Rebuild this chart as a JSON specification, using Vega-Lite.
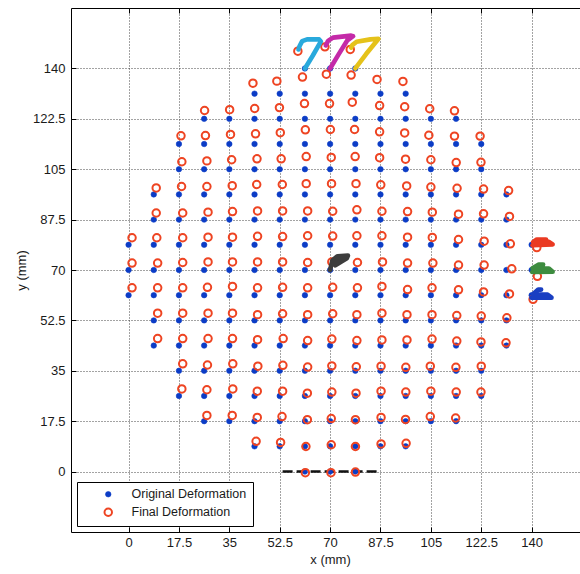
{
"$schema":"https://vega.github.io/schema/vega-lite/v6.json",
"width":509,"height":524,
"autosize":{"type":"none"},
"padding":{"left":71,"top":8,"right":0,"bottom":42},
"background":"#ffffff",
"config":{
 "view":{"stroke":"#000000","strokeWidth":1},
 "font":"Liberation Sans",
 "axis":{"labelFont":"Liberation Sans","labelFontSize":13,"labelColor":"#1a1a1a","titleFont":"Liberation Sans","titleFontSize":13,"titleFontWeight":"normal","titleColor":"#1a1a1a","domain":false,"tickColor":"#000000","tickSize":-5,"gridColor":"#333333","gridDash":[1,2],"gridWidth":1,"gridOpacity":0.9,"format":".6~g"},
 "legend":{"orient":"none","legendX":6,"legendY":474,"strokeColor":"#000000","fillColor":"#ffffff","padding":6,"labelFont":"Liberation Sans","labelFontSize":12.5,"labelColor":"#1a1a1a","symbolOffset":19,"labelOffset":17,"rowPadding":3,"title":null}
},
"datasets":{
"pts":[
{"x":61.25,"y":140,"t":"Original Deformation"},{"x":70,"y":140,"t":"Original Deformation"},{"x":78.75,"y":140,"t":"Original Deformation"},
{"x":43.75,"y":131.25,"t":"Original Deformation"},{"x":52.5,"y":131.25,"t":"Original Deformation"},{"x":61.25,"y":131.25,"t":"Original Deformation"},{"x":70,"y":131.25,"t":"Original Deformation"},{"x":78.75,"y":131.25,"t":"Original Deformation"},{"x":87.5,"y":131.25,"t":"Original Deformation"},{"x":96.25,"y":131.25,"t":"Original Deformation"},
{"x":26.25,"y":122.5,"t":"Original Deformation"},{"x":35,"y":122.5,"t":"Original Deformation"},{"x":43.75,"y":122.5,"t":"Original Deformation"},{"x":52.5,"y":122.5,"t":"Original Deformation"},{"x":61.25,"y":122.5,"t":"Original Deformation"},{"x":70,"y":122.5,"t":"Original Deformation"},{"x":78.75,"y":122.5,"t":"Original Deformation"},{"x":87.5,"y":122.5,"t":"Original Deformation"},{"x":96.25,"y":122.5,"t":"Original Deformation"},{"x":105,"y":122.5,"t":"Original Deformation"},{"x":113.75,"y":122.5,"t":"Original Deformation"},
{"x":17.5,"y":113.75,"t":"Original Deformation"},{"x":26.25,"y":113.75,"t":"Original Deformation"},{"x":35,"y":113.75,"t":"Original Deformation"},{"x":43.75,"y":113.75,"t":"Original Deformation"},{"x":52.5,"y":113.75,"t":"Original Deformation"},{"x":61.25,"y":113.75,"t":"Original Deformation"},{"x":70,"y":113.75,"t":"Original Deformation"},{"x":78.75,"y":113.75,"t":"Original Deformation"},{"x":87.5,"y":113.75,"t":"Original Deformation"},{"x":96.25,"y":113.75,"t":"Original Deformation"},{"x":105,"y":113.75,"t":"Original Deformation"},{"x":113.75,"y":113.75,"t":"Original Deformation"},{"x":122.5,"y":113.75,"t":"Original Deformation"},
{"x":17.5,"y":105,"t":"Original Deformation"},{"x":26.25,"y":105,"t":"Original Deformation"},{"x":35,"y":105,"t":"Original Deformation"},{"x":43.75,"y":105,"t":"Original Deformation"},{"x":52.5,"y":105,"t":"Original Deformation"},{"x":61.25,"y":105,"t":"Original Deformation"},{"x":70,"y":105,"t":"Original Deformation"},{"x":78.75,"y":105,"t":"Original Deformation"},{"x":87.5,"y":105,"t":"Original Deformation"},{"x":96.25,"y":105,"t":"Original Deformation"},{"x":105,"y":105,"t":"Original Deformation"},{"x":113.75,"y":105,"t":"Original Deformation"},{"x":122.5,"y":105,"t":"Original Deformation"},
{"x":8.75,"y":96.25,"t":"Original Deformation"},{"x":17.5,"y":96.25,"t":"Original Deformation"},{"x":26.25,"y":96.25,"t":"Original Deformation"},{"x":35,"y":96.25,"t":"Original Deformation"},{"x":43.75,"y":96.25,"t":"Original Deformation"},{"x":52.5,"y":96.25,"t":"Original Deformation"},{"x":61.25,"y":96.25,"t":"Original Deformation"},{"x":70,"y":96.25,"t":"Original Deformation"},{"x":78.75,"y":96.25,"t":"Original Deformation"},{"x":87.5,"y":96.25,"t":"Original Deformation"},{"x":96.25,"y":96.25,"t":"Original Deformation"},{"x":105,"y":96.25,"t":"Original Deformation"},{"x":113.75,"y":96.25,"t":"Original Deformation"},{"x":122.5,"y":96.25,"t":"Original Deformation"},{"x":131.25,"y":96.25,"t":"Original Deformation"},
{"x":8.75,"y":87.5,"t":"Original Deformation"},{"x":17.5,"y":87.5,"t":"Original Deformation"},{"x":26.25,"y":87.5,"t":"Original Deformation"},{"x":35,"y":87.5,"t":"Original Deformation"},{"x":43.75,"y":87.5,"t":"Original Deformation"},{"x":52.5,"y":87.5,"t":"Original Deformation"},{"x":61.25,"y":87.5,"t":"Original Deformation"},{"x":70,"y":87.5,"t":"Original Deformation"},{"x":78.75,"y":87.5,"t":"Original Deformation"},{"x":87.5,"y":87.5,"t":"Original Deformation"},{"x":96.25,"y":87.5,"t":"Original Deformation"},{"x":105,"y":87.5,"t":"Original Deformation"},{"x":113.75,"y":87.5,"t":"Original Deformation"},{"x":122.5,"y":87.5,"t":"Original Deformation"},{"x":131.25,"y":87.5,"t":"Original Deformation"},
{"x":0,"y":78.75,"t":"Original Deformation"},{"x":8.75,"y":78.75,"t":"Original Deformation"},{"x":17.5,"y":78.75,"t":"Original Deformation"},{"x":26.25,"y":78.75,"t":"Original Deformation"},{"x":35,"y":78.75,"t":"Original Deformation"},{"x":43.75,"y":78.75,"t":"Original Deformation"},{"x":52.5,"y":78.75,"t":"Original Deformation"},{"x":61.25,"y":78.75,"t":"Original Deformation"},{"x":70,"y":78.75,"t":"Original Deformation"},{"x":78.75,"y":78.75,"t":"Original Deformation"},{"x":87.5,"y":78.75,"t":"Original Deformation"},{"x":96.25,"y":78.75,"t":"Original Deformation"},{"x":105,"y":78.75,"t":"Original Deformation"},{"x":113.75,"y":78.75,"t":"Original Deformation"},{"x":122.5,"y":78.75,"t":"Original Deformation"},{"x":131.25,"y":78.75,"t":"Original Deformation"},{"x":140,"y":78.75,"t":"Original Deformation"},
{"x":0,"y":70,"t":"Original Deformation"},{"x":8.75,"y":70,"t":"Original Deformation"},{"x":17.5,"y":70,"t":"Original Deformation"},{"x":26.25,"y":70,"t":"Original Deformation"},{"x":35,"y":70,"t":"Original Deformation"},{"x":43.75,"y":70,"t":"Original Deformation"},{"x":52.5,"y":70,"t":"Original Deformation"},{"x":61.25,"y":70,"t":"Original Deformation"},{"x":70,"y":70,"t":"Original Deformation"},{"x":78.75,"y":70,"t":"Original Deformation"},{"x":87.5,"y":70,"t":"Original Deformation"},{"x":96.25,"y":70,"t":"Original Deformation"},{"x":105,"y":70,"t":"Original Deformation"},{"x":113.75,"y":70,"t":"Original Deformation"},{"x":122.5,"y":70,"t":"Original Deformation"},{"x":131.25,"y":70,"t":"Original Deformation"},{"x":140,"y":70,"t":"Original Deformation"},
{"x":0,"y":61.25,"t":"Original Deformation"},{"x":8.75,"y":61.25,"t":"Original Deformation"},{"x":17.5,"y":61.25,"t":"Original Deformation"},{"x":26.25,"y":61.25,"t":"Original Deformation"},{"x":35,"y":61.25,"t":"Original Deformation"},{"x":43.75,"y":61.25,"t":"Original Deformation"},{"x":52.5,"y":61.25,"t":"Original Deformation"},{"x":61.25,"y":61.25,"t":"Original Deformation"},{"x":70,"y":61.25,"t":"Original Deformation"},{"x":78.75,"y":61.25,"t":"Original Deformation"},{"x":87.5,"y":61.25,"t":"Original Deformation"},{"x":96.25,"y":61.25,"t":"Original Deformation"},{"x":105,"y":61.25,"t":"Original Deformation"},{"x":113.75,"y":61.25,"t":"Original Deformation"},{"x":122.5,"y":61.25,"t":"Original Deformation"},{"x":131.25,"y":61.25,"t":"Original Deformation"},{"x":140,"y":61.25,"t":"Original Deformation"},
{"x":8.75,"y":52.5,"t":"Original Deformation"},{"x":17.5,"y":52.5,"t":"Original Deformation"},{"x":26.25,"y":52.5,"t":"Original Deformation"},{"x":35,"y":52.5,"t":"Original Deformation"},{"x":43.75,"y":52.5,"t":"Original Deformation"},{"x":52.5,"y":52.5,"t":"Original Deformation"},{"x":61.25,"y":52.5,"t":"Original Deformation"},{"x":70,"y":52.5,"t":"Original Deformation"},{"x":78.75,"y":52.5,"t":"Original Deformation"},{"x":87.5,"y":52.5,"t":"Original Deformation"},{"x":96.25,"y":52.5,"t":"Original Deformation"},{"x":105,"y":52.5,"t":"Original Deformation"},{"x":113.75,"y":52.5,"t":"Original Deformation"},{"x":122.5,"y":52.5,"t":"Original Deformation"},{"x":131.25,"y":52.5,"t":"Original Deformation"},
{"x":8.75,"y":43.75,"t":"Original Deformation"},{"x":17.5,"y":43.75,"t":"Original Deformation"},{"x":26.25,"y":43.75,"t":"Original Deformation"},{"x":35,"y":43.75,"t":"Original Deformation"},{"x":43.75,"y":43.75,"t":"Original Deformation"},{"x":52.5,"y":43.75,"t":"Original Deformation"},{"x":61.25,"y":43.75,"t":"Original Deformation"},{"x":70,"y":43.75,"t":"Original Deformation"},{"x":78.75,"y":43.75,"t":"Original Deformation"},{"x":87.5,"y":43.75,"t":"Original Deformation"},{"x":96.25,"y":43.75,"t":"Original Deformation"},{"x":105,"y":43.75,"t":"Original Deformation"},{"x":113.75,"y":43.75,"t":"Original Deformation"},{"x":122.5,"y":43.75,"t":"Original Deformation"},{"x":131.25,"y":43.75,"t":"Original Deformation"},
{"x":17.5,"y":35,"t":"Original Deformation"},{"x":26.25,"y":35,"t":"Original Deformation"},{"x":35,"y":35,"t":"Original Deformation"},{"x":43.75,"y":35,"t":"Original Deformation"},{"x":52.5,"y":35,"t":"Original Deformation"},{"x":61.25,"y":35,"t":"Original Deformation"},{"x":70,"y":35,"t":"Original Deformation"},{"x":78.75,"y":35,"t":"Original Deformation"},{"x":87.5,"y":35,"t":"Original Deformation"},{"x":96.25,"y":35,"t":"Original Deformation"},{"x":105,"y":35,"t":"Original Deformation"},{"x":113.75,"y":35,"t":"Original Deformation"},{"x":122.5,"y":35,"t":"Original Deformation"},
{"x":17.5,"y":26.25,"t":"Original Deformation"},{"x":26.25,"y":26.25,"t":"Original Deformation"},{"x":35,"y":26.25,"t":"Original Deformation"},{"x":43.75,"y":26.25,"t":"Original Deformation"},{"x":52.5,"y":26.25,"t":"Original Deformation"},{"x":61.25,"y":26.25,"t":"Original Deformation"},{"x":70,"y":26.25,"t":"Original Deformation"},{"x":78.75,"y":26.25,"t":"Original Deformation"},{"x":87.5,"y":26.25,"t":"Original Deformation"},{"x":96.25,"y":26.25,"t":"Original Deformation"},{"x":105,"y":26.25,"t":"Original Deformation"},{"x":113.75,"y":26.25,"t":"Original Deformation"},{"x":122.5,"y":26.25,"t":"Original Deformation"},
{"x":26.25,"y":17.5,"t":"Original Deformation"},{"x":35,"y":17.5,"t":"Original Deformation"},{"x":43.75,"y":17.5,"t":"Original Deformation"},{"x":52.5,"y":17.5,"t":"Original Deformation"},{"x":61.25,"y":17.5,"t":"Original Deformation"},{"x":70,"y":17.5,"t":"Original Deformation"},{"x":78.75,"y":17.5,"t":"Original Deformation"},{"x":87.5,"y":17.5,"t":"Original Deformation"},{"x":96.25,"y":17.5,"t":"Original Deformation"},{"x":105,"y":17.5,"t":"Original Deformation"},{"x":113.75,"y":17.5,"t":"Original Deformation"},
{"x":43.75,"y":8.75,"t":"Original Deformation"},{"x":52.5,"y":8.75,"t":"Original Deformation"},{"x":61.25,"y":8.75,"t":"Original Deformation"},{"x":70,"y":8.75,"t":"Original Deformation"},{"x":78.75,"y":8.75,"t":"Original Deformation"},{"x":87.5,"y":8.75,"t":"Original Deformation"},{"x":96.25,"y":8.75,"t":"Original Deformation"},
{"x":61.25,"y":0,"t":"Original Deformation"},{"x":70,"y":0,"t":"Original Deformation"},{"x":78.75,"y":0,"t":"Original Deformation"},
{"x":58.8,"y":146.0,"t":"Final Deformation"},{"x":68.2,"y":147.5,"t":"Final Deformation"},{"x":77.0,"y":146.6,"t":"Final Deformation"},
{"x":43.2,"y":134.9,"t":"Final Deformation"},{"x":51.5,"y":135.6,"t":"Final Deformation"},{"x":60.4,"y":137.0,"t":"Final Deformation"},{"x":68.7,"y":138.0,"t":"Final Deformation"},{"x":77.3,"y":137.7,"t":"Final Deformation"},{"x":86.3,"y":136.2,"t":"Final Deformation"},{"x":95.3,"y":135.5,"t":"Final Deformation"},
{"x":26.4,"y":125.4,"t":"Final Deformation"},{"x":35.1,"y":125.7,"t":"Final Deformation"},{"x":43.8,"y":126.1,"t":"Final Deformation"},{"x":52.4,"y":126.4,"t":"Final Deformation"},{"x":61.1,"y":127.8,"t":"Final Deformation"},{"x":69.8,"y":127.8,"t":"Final Deformation"},{"x":77.7,"y":128.3,"t":"Final Deformation"},{"x":87.2,"y":127.1,"t":"Final Deformation"},{"x":95.9,"y":126.7,"t":"Final Deformation"},{"x":104.6,"y":126.0,"t":"Final Deformation"},{"x":113.2,"y":125.3,"t":"Final Deformation"},
{"x":18.2,"y":116.6,"t":"Final Deformation"},{"x":26.7,"y":116.7,"t":"Final Deformation"},{"x":35.4,"y":117.1,"t":"Final Deformation"},{"x":44.1,"y":117.3,"t":"Final Deformation"},{"x":52.7,"y":117.7,"t":"Final Deformation"},{"x":61.4,"y":118.7,"t":"Final Deformation"},{"x":70.1,"y":118.8,"t":"Final Deformation"},{"x":78.5,"y":118.8,"t":"Final Deformation"},{"x":87.2,"y":118.0,"t":"Final Deformation"},{"x":95.9,"y":117.6,"t":"Final Deformation"},{"x":104.3,"y":116.8,"t":"Final Deformation"},{"x":113.2,"y":116.5,"t":"Final Deformation"},{"x":122.1,"y":116.5,"t":"Final Deformation"},
{"x":18.5,"y":107.6,"t":"Final Deformation"},{"x":27.2,"y":107.9,"t":"Final Deformation"},{"x":35.8,"y":108.3,"t":"Final Deformation"},{"x":44.6,"y":108.6,"t":"Final Deformation"},{"x":53.0,"y":108.6,"t":"Final Deformation"},{"x":61.7,"y":109.4,"t":"Final Deformation"},{"x":70.4,"y":109.1,"t":"Final Deformation"},{"x":78.7,"y":109.4,"t":"Final Deformation"},{"x":87.2,"y":109.0,"t":"Final Deformation"},{"x":96.2,"y":108.5,"t":"Final Deformation"},{"x":105.0,"y":108.3,"t":"Final Deformation"},{"x":113.8,"y":107.3,"t":"Final Deformation"},{"x":122.4,"y":107.4,"t":"Final Deformation"},
{"x":9.6,"y":98.5,"t":"Final Deformation"},{"x":18.4,"y":99.0,"t":"Final Deformation"},{"x":27.2,"y":99.0,"t":"Final Deformation"},{"x":36.0,"y":99.3,"t":"Final Deformation"},{"x":44.5,"y":99.7,"t":"Final Deformation"},{"x":53.4,"y":99.7,"t":"Final Deformation"},{"x":61.7,"y":100.0,"t":"Final Deformation"},{"x":70.5,"y":100.0,"t":"Final Deformation"},{"x":79.0,"y":100.0,"t":"Final Deformation"},{"x":87.6,"y":99.6,"t":"Final Deformation"},{"x":96.6,"y":99.2,"t":"Final Deformation"},{"x":105.0,"y":98.8,"t":"Final Deformation"},{"x":114.1,"y":98.4,"t":"Final Deformation"},{"x":123.3,"y":98.1,"t":"Final Deformation"},{"x":132.0,"y":97.6,"t":"Final Deformation"},
{"x":9.6,"y":89.8,"t":"Final Deformation"},{"x":18.8,"y":89.8,"t":"Final Deformation"},{"x":27.6,"y":90.1,"t":"Final Deformation"},{"x":36.1,"y":90.3,"t":"Final Deformation"},{"x":44.8,"y":90.5,"t":"Final Deformation"},{"x":53.5,"y":90.5,"t":"Final Deformation"},{"x":62.2,"y":90.5,"t":"Final Deformation"},{"x":70.9,"y":90.4,"t":"Final Deformation"},{"x":79.3,"y":90.9,"t":"Final Deformation"},{"x":88.0,"y":90.4,"t":"Final Deformation"},{"x":96.9,"y":90.3,"t":"Final Deformation"},{"x":105.5,"y":90.1,"t":"Final Deformation"},{"x":114.6,"y":89.4,"t":"Final Deformation"},{"x":123.3,"y":89.5,"t":"Final Deformation"},{"x":132.3,"y":88.6,"t":"Final Deformation"},
{"x":1.2,"y":81.2,"t":"Final Deformation"},{"x":9.8,"y":81.2,"t":"Final Deformation"},{"x":18.8,"y":81.2,"t":"Final Deformation"},{"x":27.6,"y":81.4,"t":"Final Deformation"},{"x":36.1,"y":81.4,"t":"Final Deformation"},{"x":44.8,"y":81.7,"t":"Final Deformation"},{"x":53.5,"y":81.6,"t":"Final Deformation"},{"x":62.2,"y":81.9,"t":"Final Deformation"},{"x":70.9,"y":81.8,"t":"Final Deformation"},{"x":79.3,"y":81.9,"t":"Final Deformation"},{"x":88.0,"y":81.9,"t":"Final Deformation"},{"x":96.9,"y":81.4,"t":"Final Deformation"},{"x":105.5,"y":81.3,"t":"Final Deformation"},{"x":114.6,"y":80.6,"t":"Final Deformation"},{"x":123.5,"y":80.0,"t":"Final Deformation"},{"x":132.6,"y":79.1,"t":"Final Deformation"},{"x":141.8,"y":77.8,"t":"Final Deformation"},
{"x":1.2,"y":72.4,"t":"Final Deformation"},{"x":10.1,"y":72.4,"t":"Final Deformation"},{"x":18.8,"y":72.6,"t":"Final Deformation"},{"x":27.6,"y":72.8,"t":"Final Deformation"},{"x":36.1,"y":72.8,"t":"Final Deformation"},{"x":44.8,"y":72.8,"t":"Final Deformation"},{"x":53.5,"y":72.8,"t":"Final Deformation"},{"x":62.2,"y":72.6,"t":"Final Deformation"},{"x":70.6,"y":72.8,"t":"Final Deformation"},{"x":79.5,"y":72.6,"t":"Final Deformation"},{"x":88.2,"y":72.8,"t":"Final Deformation"},{"x":96.9,"y":72.4,"t":"Final Deformation"},{"x":105.7,"y":72.4,"t":"Final Deformation"},{"x":114.6,"y":71.7,"t":"Final Deformation"},{"x":123.5,"y":71.7,"t":"Final Deformation"},{"x":133.1,"y":70.4,"t":"Final Deformation"},{"x":142.0,"y":67.8,"t":"Final Deformation"},
{"x":1.2,"y":63.8,"t":"Final Deformation"},{"x":10.1,"y":63.8,"t":"Final Deformation"},{"x":18.8,"y":63.8,"t":"Final Deformation"},{"x":27.4,"y":64.0,"t":"Final Deformation"},{"x":36.1,"y":64.3,"t":"Final Deformation"},{"x":44.8,"y":63.8,"t":"Final Deformation"},{"x":53.5,"y":64.0,"t":"Final Deformation"},{"x":62.2,"y":63.8,"t":"Final Deformation"},{"x":70.9,"y":64.0,"t":"Final Deformation"},{"x":79.5,"y":63.8,"t":"Final Deformation"},{"x":88.0,"y":64.3,"t":"Final Deformation"},{"x":96.9,"y":63.2,"t":"Final Deformation"},{"x":105.4,"y":63.8,"t":"Final Deformation"},{"x":114.6,"y":63.1,"t":"Final Deformation"},{"x":123.3,"y":62.4,"t":"Final Deformation"},{"x":132.3,"y":61.7,"t":"Final Deformation"},{"x":140.5,"y":59.8,"t":"Final Deformation"},
{"x":10.1,"y":55.0,"t":"Final Deformation"},{"x":18.8,"y":55.0,"t":"Final Deformation"},{"x":27.6,"y":55.0,"t":"Final Deformation"},{"x":36.1,"y":55.0,"t":"Final Deformation"},{"x":44.8,"y":54.5,"t":"Final Deformation"},{"x":53.5,"y":54.8,"t":"Final Deformation"},{"x":62.2,"y":54.5,"t":"Final Deformation"},{"x":70.9,"y":54.8,"t":"Final Deformation"},{"x":79.3,"y":54.5,"t":"Final Deformation"},{"x":88.0,"y":55.0,"t":"Final Deformation"},{"x":96.7,"y":54.5,"t":"Final Deformation"},{"x":105.4,"y":54.5,"t":"Final Deformation"},{"x":114.0,"y":54.2,"t":"Final Deformation"},{"x":122.5,"y":54.0,"t":"Final Deformation"},{"x":131.4,"y":53.4,"t":"Final Deformation"},
{"x":10.1,"y":46.2,"t":"Final Deformation"},{"x":18.8,"y":46.2,"t":"Final Deformation"},{"x":27.6,"y":46.2,"t":"Final Deformation"},{"x":36.1,"y":46.2,"t":"Final Deformation"},{"x":44.8,"y":45.8,"t":"Final Deformation"},{"x":53.7,"y":46.2,"t":"Final Deformation"},{"x":62.2,"y":45.5,"t":"Final Deformation"},{"x":70.6,"y":46.0,"t":"Final Deformation"},{"x":79.3,"y":45.5,"t":"Final Deformation"},{"x":88.0,"y":45.7,"t":"Final Deformation"},{"x":96.7,"y":45.7,"t":"Final Deformation"},{"x":105.4,"y":46.0,"t":"Final Deformation"},{"x":114.0,"y":45.3,"t":"Final Deformation"},{"x":122.4,"y":45.0,"t":"Final Deformation"},{"x":131.1,"y":44.7,"t":"Final Deformation"},
{"x":18.8,"y":37.4,"t":"Final Deformation"},{"x":27.4,"y":37.0,"t":"Final Deformation"},{"x":36.2,"y":37.4,"t":"Final Deformation"},{"x":44.9,"y":36.6,"t":"Final Deformation"},{"x":53.6,"y":36.9,"t":"Final Deformation"},{"x":62.2,"y":36.3,"t":"Final Deformation"},{"x":70.6,"y":36.7,"t":"Final Deformation"},{"x":79.1,"y":36.4,"t":"Final Deformation"},{"x":87.7,"y":36.6,"t":"Final Deformation"},{"x":96.3,"y":36.2,"t":"Final Deformation"},{"x":104.8,"y":36.6,"t":"Final Deformation"},{"x":113.7,"y":36.2,"t":"Final Deformation"},{"x":122.5,"y":36.6,"t":"Final Deformation"},
{"x":18.5,"y":28.7,"t":"Final Deformation"},{"x":27.2,"y":28.4,"t":"Final Deformation"},{"x":36.2,"y":28.7,"t":"Final Deformation"},{"x":44.7,"y":27.9,"t":"Final Deformation"},{"x":53.5,"y":27.9,"t":"Final Deformation"},{"x":62.1,"y":27.2,"t":"Final Deformation"},{"x":70.6,"y":27.6,"t":"Final Deformation"},{"x":79.0,"y":27.2,"t":"Final Deformation"},{"x":87.7,"y":27.9,"t":"Final Deformation"},{"x":96.3,"y":27.6,"t":"Final Deformation"},{"x":105.0,"y":27.9,"t":"Final Deformation"},{"x":113.8,"y":27.6,"t":"Final Deformation"},{"x":122.4,"y":27.6,"t":"Final Deformation"},
{"x":27.2,"y":19.5,"t":"Final Deformation"},{"x":36.0,"y":19.5,"t":"Final Deformation"},{"x":44.7,"y":18.8,"t":"Final Deformation"},{"x":53.3,"y":19.1,"t":"Final Deformation"},{"x":62.1,"y":18.0,"t":"Final Deformation"},{"x":70.4,"y":18.4,"t":"Final Deformation"},{"x":78.8,"y":18.0,"t":"Final Deformation"},{"x":87.7,"y":18.8,"t":"Final Deformation"},{"x":96.2,"y":18.1,"t":"Final Deformation"},{"x":104.8,"y":19.1,"t":"Final Deformation"},{"x":113.6,"y":18.6,"t":"Final Deformation"},
{"x":44.3,"y":10.5,"t":"Final Deformation"},{"x":52.8,"y":10.1,"t":"Final Deformation"},{"x":61.6,"y":8.7,"t":"Final Deformation"},{"x":70.4,"y":9.3,"t":"Final Deformation"},{"x":78.8,"y":8.7,"t":"Final Deformation"},{"x":87.7,"y":9.6,"t":"Final Deformation"},{"x":96.4,"y":9.8,"t":"Final Deformation"},
{"x":61.4,"y":-0.4,"t":"Final Deformation"},{"x":70.3,"y":-0.4,"t":"Final Deformation"},{"x":78.8,"y":-0.2,"t":"Final Deformation"}
],
"traj":[
{"g":"c","o":1,"x":61.25,"y":140},{"g":"c","o":2,"x":64,"y":144.5},{"g":"c","o":3,"x":66.8,"y":149.4},{"g":"c","o":4,"x":66.2,"y":150.1},{"g":"c","o":5,"x":62,"y":150.1},{"g":"c","o":6,"x":60.3,"y":149.5},{"g":"c","o":7,"x":59.4,"y":147.8},{"g":"c","o":8,"x":59,"y":146.6},
{"g":"m","o":1,"x":70,"y":140},{"g":"m","o":2,"x":73,"y":145},{"g":"m","o":3,"x":76,"y":149.8},{"g":"m","o":4,"x":78,"y":151.2},{"g":"m","o":5,"x":77.3,"y":151.4},{"g":"m","o":6,"x":71,"y":150.7},{"g":"m","o":7,"x":69.3,"y":149.6},{"g":"m","o":8,"x":68.5,"y":148},
{"g":"y","o":1,"x":78.75,"y":140},{"g":"y","o":2,"x":82.5,"y":145},{"g":"y","o":3,"x":86.4,"y":149.8},{"g":"y","o":4,"x":86.8,"y":150.3},{"g":"y","o":5,"x":84,"y":150.1},{"g":"y","o":6,"x":79.2,"y":149.3},{"g":"y","o":7,"x":77.7,"y":148.1},{"g":"y","o":8,"x":77.3,"y":147.2},
{"g":"k","o":1,"x":70,"y":70},{"g":"k","o":2,"x":70.8,"y":73.4},{"g":"k","o":3,"x":72.6,"y":74.8},{"g":"k","o":4,"x":76.2,"y":75},{"g":"k","o":5,"x":75.8,"y":74.1},{"g":"k","o":6,"x":71.8,"y":71.6},{"g":"k","o":7,"x":72.5,"y":73.5},{"g":"k","o":8,"x":75,"y":74.5},
{"g":"r","o":1,"x":140.3,"y":78.6},{"g":"r","o":2,"x":147.3,"y":78.9},{"g":"r","o":3,"x":146,"y":79.8},{"g":"r","o":4,"x":140.5,"y":79.7},{"g":"r","o":5,"x":141.8,"y":80.6},{"g":"r","o":6,"x":145,"y":80.6},
{"g":"gr","o":1,"x":140.2,"y":69.3},{"g":"gr","o":2,"x":147.3,"y":69.4},{"g":"gr","o":3,"x":146,"y":70.5},{"g":"gr","o":4,"x":140.3,"y":70.6},{"g":"gr","o":5,"x":142.5,"y":71.9},{"g":"gr","o":6,"x":144,"y":71.9},
{"g":"b","o":1,"x":139.9,"y":60.4},{"g":"b","o":2,"x":146.9,"y":60.4},{"g":"b","o":3,"x":145.5,"y":61.5},{"g":"b","o":4,"x":140.5,"y":61.6},{"g":"b","o":5,"x":142.3,"y":63.2},{"g":"b","o":6,"x":143.3,"y":63.2}
],
"dash":[{"x":53.5,"y":0},{"x":87.5,"y":0}]
},
"layer":[
{"data":{"name":"dash"},
 "mark":{"type":"line","color":"#111111","strokeWidth":2.5,"strokeDash":[10,4]},
 "encoding":{
  "x":{"field":"x","type":"quantitative","scale":{"domain":[-20,156.8],"nice":false,"zero":false},"axis":{"orient":"top","labels":false,"grid":false,"title":null,"values":[0,17.5,35,52.5,70,87.5,105,122.5,140]}},
  "y":{"field":"y","type":"quantitative","scale":{"domain":[-21,161],"nice":false,"zero":false},"axis":{"values":[0,17.5,35,52.5,70,87.5,105,122.5,140],"title":"y (mm)","labelPadding":11,"titlePadding":4,"grid":true}}
 }},
{"data":{"name":"pts"},
 "mark":{"type":"point","shape":"circle","opacity":1},
 "encoding":{
  "x":{"field":"x","type":"quantitative","scale":{"domain":[-20,156.8],"nice":false,"zero":false},"axis":{"orient":"bottom","values":[0,17.5,35,52.5,70,87.5,105,122.5,140],"title":"x (mm)","grid":true,"labelPadding":9,"titlePadding":4,"titleX":259}},
  "y":{"field":"y","type":"quantitative","scale":{"domain":[-21,161],"nice":false,"zero":false}},
  "stroke":{"field":"t","type":"nominal","scale":{"domain":["Original Deformation","Final Deformation"],"range":["#0b3cc6","#ee4422"]}},
  "fill":{"field":"t","type":"nominal","scale":{"domain":["Original Deformation","Final Deformation"],"range":["#0b3cc6","transparent"]}},
  "size":{"field":"t","type":"nominal","scale":{"domain":["Original Deformation","Final Deformation"],"range":[30,56]}},
  "strokeWidth":{"field":"t","type":"nominal","scale":{"domain":["Original Deformation","Final Deformation"],"range":[0.6,2]}}
 }},
{"data":{"name":"traj"},
 "mark":{"type":"line","strokeWidth":4.6,"strokeCap":"round","strokeJoin":"round"},
 "encoding":{
  "x":{"field":"x","type":"quantitative","scale":{"domain":[-20,156.8],"nice":false,"zero":false},"axis":null},
  "y":{"field":"y","type":"quantitative","scale":{"domain":[-21,161],"nice":false,"zero":false}},
  "color":{"field":"g","type":"nominal","scale":{"domain":["c","m","y","k","r","gr","b"],"range":["#29a9dc","#c42aa8","#e5c21a","#3d3d3d","#ea3a22","#3d8c3f","#1a3fc2"]},"legend":null},
  "order":{"field":"o","type":"quantitative"}
 }}
],
"resolve":{"axis":{"x":"independent"}}
}
